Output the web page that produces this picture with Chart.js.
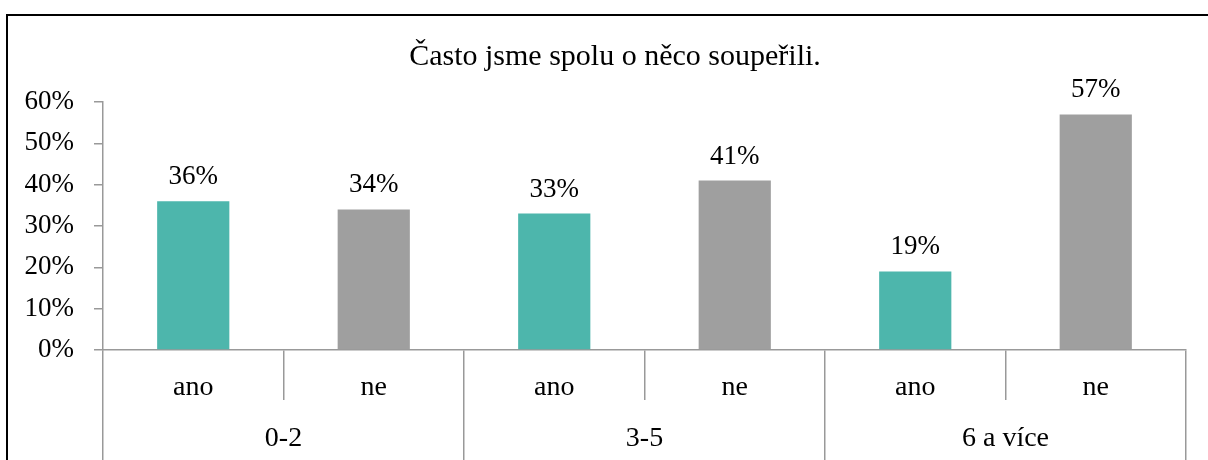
<!DOCTYPE html>
<html>
<head>
<meta charset="utf-8">
<script src="https://cdn.jsdelivr.net/npm/chart.js@4"></script>
<style>
    html, body { margin: 0; padding: 0; background: #fff; overflow: hidden; }
    #frame {
        position: absolute; left: 6px; top: 14px; width: 1300px; height: 600px;
        border-top: 2px solid #000; border-left: 2px solid #000;
    }
    #wrap { position: absolute; left: 0; top: 0; width: 1208px; height: 460px; }
</style>
</head>
<body>
<div id="frame"></div>
<div id="wrap"><canvas id="chart"></canvas></div>
<script>
const chartTitle = "Často jsme spolu o něco soupeřili.";
const answers = ["ano", "ne", "ano", "ne", "ano", "ne"];
const groups = ["0-2", "3-5", "6 a více"];
const shares = [36, 34, 33, 41, 19, 57];
const yTicks = [0, 10, 20, 30, 40, 50, 60];

const teal = "#4db6ac";
const grey = "#9f9f9f";
const axisGrey = "#999999";
const serif = "'Liberation Serif', 'Times New Roman', serif";

// colour each bar by its answer
const barColors = answers.map((a) => (a == "ano" ? teal : grey));

// percent label above every bar
const valueLabels = {
    id: "valueLabels",
    afterDatasetsDraw(chart) {
        const ctx = chart.ctx;
        const meta = chart.getDatasetMeta(0);
        ctx.save();
        ctx.font = "27px " + serif;
        ctx.fillStyle = "#000";
        ctx.textAlign = "center";
        ctx.textBaseline = "alphabetic";
        meta.data.forEach((bar, i) => {
            ctx.fillText(shares[i] + "%", bar.x, bar.y - 17);
        });
        ctx.restore();
    },
};

// title sits in the middle of the framed box, not of the plot
const frameTitle = {
    id: "frameTitle",
    afterDraw(chart) {
        const ctx = chart.ctx;
        ctx.save();
        ctx.font = "30px " + serif;
        ctx.fillStyle = "#000";
        ctx.textAlign = "center";
        ctx.textBaseline = "middle";
        ctx.fillText(chartTitle, 615, 57);
        ctx.restore();
    },
};

new Chart(document.getElementById("chart"), {
    type: "bar",
    data: {
        labels: answers,
        datasets: [
            {
                data: shares,
                backgroundColor: barColors,
                barPercentage: 0.4,
                categoryPercentage: 1,
                xAxisID: "x",
            },
        ],
    },
    options: {
        responsive: true,
        maintainAspectRatio: false,
        animation: false,
        layout: { padding: { left: 0, right: 22, top: 102, bottom: 0 } },
        plugins: {
            legend: { display: false },
            tooltip: { enabled: false },
            title: { display: false },
        },
        scales: {
            y: {
                min: 0,
                max: 60,
                afterBuildTicks: (scale) => {
                    scale.ticks = yTicks.map((v) => ({ value: v }));
                },
                afterFit: (scale) => {
                    scale.width = 103;
                },
                ticks: {
                    callback: (v) => v + "%",
                    color: "#000",
                    font: { family: serif, size: 27 },
                    padding: 20,
                },
                grid: {
                    drawOnChartArea: false,
                    tickLength: 9,
                    color: axisGrey,
                    lineWidth: 1.5,
                },
                border: { color: axisGrey, width: 1.5 },
            },
            x: {
                position: "bottom",
                offset: true,
                afterFit: (scale) => {
                    scale.height = 50;
                },
                ticks: {
                    color: "#000",
                    font: { family: serif, size: 28, lineHeight: 1 },
                    padding: -26,
                    maxRotation: 0,
                },
                grid: {
                    offset: true,
                    drawOnChartArea: false,
                    tickLength: 50,
                    color: axisGrey,
                    lineWidth: 1.5,
                },
                border: { color: axisGrey, width: 1.5 },
            },
            groups: {
                type: "category",
                labels: groups,
                position: "bottom",
                offset: true,
                afterFit: (scale) => {
                    scale.height = 60;
                },
                ticks: {
                    color: "#000",
                    font: { family: serif, size: 28, lineHeight: 1 },
                    padding: -35,
                    maxRotation: 0,
                },
                grid: {
                    offset: true,
                    drawOnChartArea: false,
                    tickLength: 60,
                    color: axisGrey,
                    lineWidth: 1.5,
                },
                border: { display: false },
            },
        },
    },
    plugins: [valueLabels, frameTitle],
});
</script>
</body>
</html>
